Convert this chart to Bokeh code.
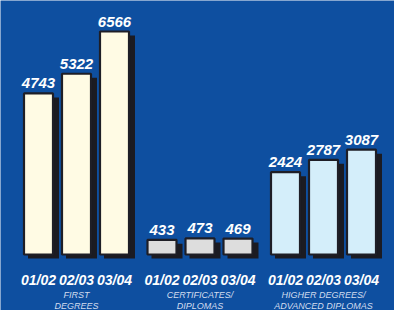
from bokeh.plotting import figure
from bokeh.models import Range1d, ColumnDataSource
from bokeh.core.properties import value
from bokeh.embed import file_html
from bokeh.resources import INLINE

# ---- data ----
years = ["01/02", "02/03", "03/04"]
groups_line1 = ["FIRST", "CERTIFICATES/", "HIGHER DEGREES/"]
groups_line2 = ["DEGREES", "DIPLOMAS", "ADVANCED DIPLOMAS"]
first_degrees = [4743, 5322, 6566]
certificates = [433, 473, 469]
higher_degrees = [2424, 2787, 3087]
fills = ["#FFFBE4", "#DDDDDD", "#D4EEFA"]

series = [first_degrees, certificates, higher_degrees]

BG = "#0E4FA0"
W, H = 394, 310
OX, OY = 0, 0           # page offset
UNIT = 38.0             # px per bar slot
X0 = 38.0               # px centre of first bar
GROUP_STEP = 3.25
BASE = 254.0            # baseline px
SY = 223.0 / 6566.0     # px per unit

p = figure(width=W, height=H, output_backend="svg", toolbar_location=None,
           x_range=Range1d((OX - X0) / UNIT, (OX + W - X0) / UNIT),
           y_range=Range1d((BASE - (OY + H)) / SY, (BASE - OY) / SY),
           min_border=0, background_fill_color=BG, border_fill_color=BG,
           outline_line_color=None)
p.axis.visible = False
p.grid.visible = False

xs, tops, cols, labels, ylab = [], [], [], [], []
for g, vals in enumerate(series):
    for i, v in enumerate(vals):
        xs.append(g * GROUP_STEP + i)
        tops.append(v)
        cols.append(fills[g])
        labels.append(str(v))
        ylab.append(years[i])

px = 1.0 / SY
src = ColumnDataSource(dict(
    x=xs, top=tops, fill=cols, label=labels, year=ylab,
    sx=[x + 5 / UNIT for x in xs],
    stop=[t - 4 * px for t in tops],
    ty=[t + 10 * px for t in tops],
))

BW = 29 / UNIT
p.vbar(x="sx", top="stop", bottom=-4 * px, width=BW + 2 / UNIT, source=src,
       fill_color="#1B1B22", line_color=None)
p.vbar(x="x", top="top", bottom=0, width=BW, source=src,
       fill_color="fill", line_color="#1E1E26", line_width=2.2)

FONT = value("Liberation Sans")
p.text(x="x", y="ty", text="label", source=src, text_font=FONT,
       text_font_style="bold italic", text_font_size="15px",
       text_color="white", text_align="center", text_baseline="alphabetic")
p.text(x="x", y=-25 * px, text="year", source=src, text_font=FONT,
       text_font_style="bold italic", text_font_size="14px",
       text_color="white", text_align="center", text_baseline="alphabetic")

gx = [g * GROUP_STEP + 1 for g in range(3)]
gsrc = ColumnDataSource(dict(x=gx, l1=groups_line1, l2=groups_line2))
p.text(x="x", y=-40 * px, text="l1", source=gsrc, text_font=FONT,
       text_font_style="italic", text_font_size="9px",
       text_color="#D2DDEF", text_align="center", text_baseline="alphabetic")
p.text(x="x", y=-51 * px, text="l2", source=gsrc, text_font=FONT,
       text_font_style="italic", text_font_size="9px",
       text_color="#D2DDEF", text_align="center", text_baseline="alphabetic")

open("out.html", "w").write(file_html(p, INLINE))
